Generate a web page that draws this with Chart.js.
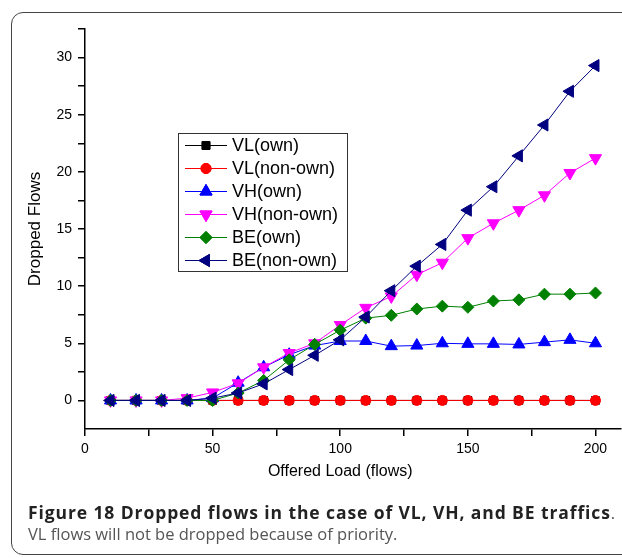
<!DOCTYPE html>
<html>
<head>
<meta charset="utf-8">
<script src="https://cdn.jsdelivr.net/npm/chart.js@4.4.0/dist/chart.umd.min.js"></script>
<style>
  body { margin: 0; background: #fff; }
  #wrap { position: relative; width: 622px; height: 558px; overflow: hidden; }
  #frame { position: absolute; left: 11px; top: 12px; width: 660px; height: 541px;
           border: 1.5px solid #444; border-radius: 12px; }
  #myChart { position: absolute; left: 0; top: 0; }
  #caption { position: absolute; left: 28px; top: 502px; font-family: "Open Sans", sans-serif;
             font-size: 16.5px; line-height: 21px; color: #555; white-space: nowrap; }
  #caption b { color: #222; font-size: 17.5px; letter-spacing: 0.9px; }
</style>
</head>
<body>
<div id="wrap">
  <div id="frame"></div>
  <canvas id="myChart" width="629" height="558"></canvas>
  <div id="caption"><b>Figure 18 Dropped flows in the case of VL, VH, and BE traffics</b>.<br>VL flows will not be dropped because of priority.</div>
</div>
<script>
// offered load (x axis)
var loads = [10, 20, 30, 40, 50, 60, 70, 80, 90, 100, 110, 120, 130, 140, 150, 160, 170, 180, 190, 200];

// dropped flows per series
var vlOwn    = [0, 0, 0, 0, 0, 0, 0, 0, 0, 0, 0, 0, 0, 0, 0, 0, 0, 0, 0, 0];
var vlNonOwn = [0, 0, 0, 0, 0, 0, 0, 0, 0, 0, 0, 0, 0, 0, 0, 0, 0, 0, 0, 0];
var vhOwn    = [0, 0, 0, 0, 0.2, 1.55, 2.9, 4.0, 4.8, 5.2, 5.2, 4.75, 4.8, 5.0, 4.95, 4.95, 4.9, 5.1, 5.3, 5.0];
var vhNonOwn = [0, 0, 0, 0.2, 0.7, 1.5, 2.9, 4.15, 5.0, 6.6, 8.1, 9.1, 11.0, 12.05, 14.2, 15.5, 16.65, 17.95, 19.9, 21.2];
var beOwn    = [0, 0, 0, 0, 0, 0.65, 1.75, 3.55, 4.9, 6.15, 7.2, 7.45, 8.0, 8.25, 8.15, 8.7, 8.8, 9.3, 9.3, 9.4];
var beNonOwn = [0, 0, 0, 0, 0.2, 0.65, 1.45, 2.7, 3.95, 5.3, 7.3, 9.6, 11.75, 13.65, 16.65, 18.7, 21.4, 24.1, 27.05, 29.3];

var seriesNames = ["VL(own)", "VL(non-own)", "VH(own)", "VH(non-own)", "BE(own)", "BE(non-own)"];
var seriesData = [vlOwn, vlNonOwn, vhOwn, vhNonOwn, beOwn, beNonOwn];

var styles = [
  { color: "#000000", shape: "rect", rot: 0, r: 5.5 },
  { color: "#ff0000", shape: "circle", rot: 0, r: 5 },
  { color: "#0000ff", shape: "triangle", rot: 0, r: 7 },
  { color: "#ff00ff", shape: "triangle", rot: 180, r: 7 },
  { color: "#008000", shape: "rectRot", rot: 0, r: 6 },
  { color: "#000080", shape: "triangle", rot: 270, r: 7 }
];

var datasets = seriesData.map(function (arr, i) {
  var s = styles[i];
  return {
    label: seriesNames[i],
    data: loads.map(function (x, j) { return { x: x, y: arr[j] }; }),
    borderColor: s.color,
    backgroundColor: s.color,
    borderWidth: 1,
    pointStyle: s.shape,
    rotation: s.rot,
    pointRadius: s.r,
    pointBorderWidth: 1,
    order: seriesNames.length - i
  };
});

// axis titles + boxed legend inside the plot
var extras = {
  id: "extras",
  afterDraw: function (chart) {
    var ctx = chart.ctx;
    var xs = chart.scales.x, ys = chart.scales.y;
    ctx.save();
    ctx.fillStyle = "#000";
    ctx.font = "16px 'Liberation Sans', Arial";
    ctx.textAlign = "center";
    ctx.textBaseline = "middle";
    ctx.fillText("Offered Load (flows)", xs.getPixelForValue(100), 472);
    ctx.translate(35, (ys.top + ys.bottom) / 2);
    ctx.rotate(-Math.PI / 2);
    ctx.font = "17px 'Liberation Sans', Arial";
    ctx.fillText("Dropped Flows", 0, 0);
    ctx.restore();

    ctx.save();
    ctx.strokeStyle = "#333";
    ctx.lineWidth = 1;
    ctx.fillStyle = "#fff";
    ctx.fillRect(178.5, 133.5, 169, 138);
    ctx.strokeRect(178.5, 133.5, 169, 138);
    ctx.font = "18px 'Liberation Sans', Arial";
    ctx.textAlign = "left";
    ctx.textBaseline = "middle";
    chart.data.datasets.forEach(function (ds, i) {
      var y = 145.5 + i * 23;
      ctx.strokeStyle = ds.borderColor;
      ctx.beginPath();
      ctx.moveTo(185, y);
      ctx.lineTo(227, y);
      ctx.stroke();
      ctx.fillStyle = ds.backgroundColor;
      Chart.helpers.drawPoint(ctx, { pointStyle: ds.pointStyle, rotation: ds.rotation, radius: ds.pointRadius, borderWidth: 1 }, 206, y);
      ctx.fill();
      ctx.stroke();
      ctx.fillStyle = "#000";
      ctx.fillText(ds.label, 232, y + 1);
    });
    ctx.restore();
  }
};

var ctx = document.getElementById("myChart").getContext("2d");
var chart = new Chart(ctx, {
  type: "line",
  data: { datasets: datasets },
  options: {
    responsive: false,
    animation: false,
    devicePixelRatio: 1,
    layout: { padding: { left: 0, top: 29, right: 1, bottom: 89 } },
    plugins: { legend: { display: false }, tooltip: { enabled: false } },
    scales: {
      x: {
        type: "linear",
        min: 0,
        max: 210,
        afterFit: function (s) { s.height = 40; s.paddingLeft = 0; s.paddingRight = 0; },
        ticks: {
          stepSize: 25,
          includeBounds: false,
          autoSkip: false,
          maxRotation: 0,
          padding: 5,
          color: "#000",
          font: { family: "'Liberation Sans', Arial", size: 14 },
          callback: function (v) { return v % 50 === 0 ? v : ""; }
        },
        grid: { drawOnChartArea: false, drawTicks: true, tickLength: 7, color: "#000", lineWidth: 1.5 },
        border: { display: true, color: "#000", width: 1.5 }
      },
      y: {
        min: -2.5,
        max: 32.5,
        afterBuildTicks: function (s) { s.ticks = s.ticks.filter(function (t) { return t.value > -2.5; }); },
        afterFit: function (s) { s.width = 85; s.paddingTop = 0; s.paddingBottom = 0; },
        ticks: {
          stepSize: 2.5,
          autoSkip: false,
          padding: 6,
          color: "#000",
          font: { family: "'Liberation Sans', Arial", size: 14 },
          callback: function (v) { return v % 5 === 0 ? v : ""; }
        },
        grid: { drawOnChartArea: false, drawTicks: true, tickLength: 7, color: "#000", lineWidth: 1.5 },
        border: { display: true, color: "#000", width: 1.5 }
      }
    }
  },
  plugins: [extras]
});
</script>
</body>
</html>
